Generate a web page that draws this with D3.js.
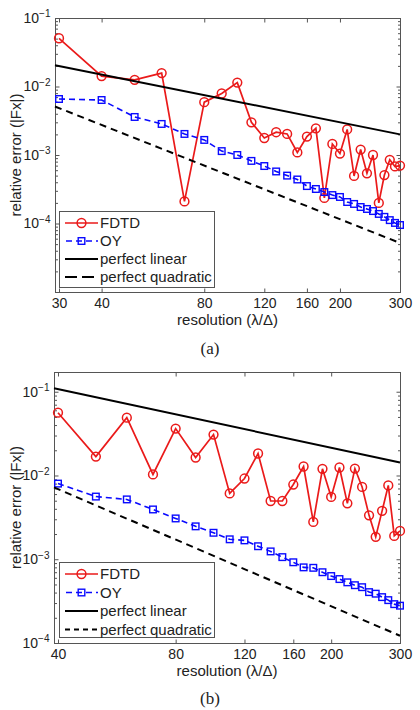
<!DOCTYPE html>
<html>
<head>
<meta charset="utf-8">
<script src="https://cdn.jsdelivr.net/npm/d3@7"></script>
<style>
  body { margin: 0; background: #fff; }
  svg text { font-family: "Liberation Sans", Arial, Helvetica, sans-serif; fill: #222; }
</style>
</head>
<body>
<svg id="chart" width="420" height="710"></svg>
<script>
// ---- panel (a) data ----
var resA = [30,40,50,60,70,80,90,100,110,120,130,140,150,160,170,180,190,200,210,220,230,240,250,260,270,280,290,300];
var fdtdA = [0.0506,0.0142,0.0125,0.0157,2.1e-4,5.9e-3,7.9e-3,0.0114,3.0e-3,1.77e-3,2.15e-3,2.03e-3,1.09e-3,1.86e-3,2.45e-3,2.36e-4,1.45e-3,1.05e-3,2.36e-3,4.95e-4,1.2e-3,5.4e-4,1.0e-3,2.0e-4,5.1e-4,8.5e-4,6.8e-4,7.0e-4];
var oyA = [6.57e-3,6.35e-3,3.59e-3,2.84e-3,2.03e-3,1.66e-3,1.14e-3,1.0e-3,8.2e-4,6.9e-4,5.75e-4,5.0e-4,4.39e-4,3.52e-4,3.19e-4,2.88e-4,2.6e-4,2.44e-4,2.06e-4,1.93e-4,1.74e-4,1.63e-4,1.52e-4,1.38e-4,1.25e-4,1.12e-4,1.02e-4,9.5e-5];
var linearA = [[29.2, 0.0205], [300, 0.0020]];
var quadA = [[29.2, 5.1e-3], [300, 5.2e-5]];
var xTicksA = [30,40,80,120,160,200,300];
var yTicksA = [1e-4,1e-3,1e-2,1e-1];

// ---- panel (b) data ----
var resB = [40,50,60,70,80,90,100,110,120,130,140,150,160,170,180,190,200,210,220,230,240,250,260,270,280,290,300];
var fdtdB = [0.0562,0.0168,0.049,0.0103,0.0363,0.0164,0.0308,6.1e-3,9.2e-3,0.0183,4.96e-3,4.96e-3,7.8e-3,0.0128,2.79e-3,0.012,5.55e-3,0.01245,4.65e-3,0.0121,7.3e-3,3.34e-3,1.85e-3,3.78e-3,7.6e-3,1.9e-3,2.18e-3];
var oyB = [8.0e-3,5.6e-3,5.18e-3,3.93e-3,3.07e-3,2.47e-3,2.07e-3,1.73e-3,1.68e-3,1.43e-3,1.24e-3,1.06e-3,9.2e-4,8.0e-4,7.9e-4,7.0e-4,6.3e-4,5.8e-4,5.3e-4,4.9e-4,4.64e-4,4.05e-4,3.88e-4,3.53e-4,3.25e-4,2.91e-4,2.79e-4];
var linearB = [[39.07, 0.11], [300, 0.0143]];
var quadB = [[39.07, 7.2e-3], [300, 1.22e-4]];
var xTicksB = [40,80,120,160,200,300];
var yTicksB = [1e-4,1e-3,1e-2,1e-1];

var legendLabels = ["FDTD", "OY", "perfect linear", "perfect quadratic"];
var red = "#ea1a1a", blue = "#0a0aff";

var svg = d3.select("#chart");

function drawPanel(p) {
  var g = svg.append("g");
  var x = d3.scaleLog().domain(p.xDomain).range([p.left, p.right]);
  var y = d3.scaleLog().domain(p.yDomain).range([p.bottom, p.top]);

  // box
  g.append("rect")
    .attr("x", p.left + 0.5).attr("y", p.top + 0.5)
    .attr("width", p.right - p.left).attr("height", p.bottom - p.top)
    .attr("fill", "none").attr("stroke", "#555").attr("stroke-width", 1);

  // x axes (ticks point inward)
  var xb = g.append("g").attr("transform", "translate(0," + (p.bottom + 0.5) + ")")
    .call(d3.axisBottom(x).tickValues(p.xTicks).tickSize(-4).tickPadding(6).tickFormat(d3.format("d")));
  g.append("g").attr("transform", "translate(0," + (p.top + 0.5) + ")")
    .call(d3.axisTop(x).tickValues(p.xTicks).tickSize(-4).tickFormat(""));

  // y axes, major + minor
  var minor = y.ticks().filter(function(d) {
    return Math.abs(Math.log10(d) - Math.round(Math.log10(d))) > 1e-6;
  });
  var yl = g.append("g").attr("transform", "translate(" + (p.left + 0.5) + ",0)")
    .call(d3.axisLeft(y).tickValues(p.yTicks).tickSize(-4).tickPadding(5));
  g.append("g").attr("transform", "translate(" + (p.left + 0.5) + ",0)")
    .call(d3.axisLeft(y).tickValues(minor).tickSize(-2.5).tickFormat(""));
  g.append("g").attr("transform", "translate(" + (p.right + 0.5) + ",0)")
    .call(d3.axisRight(y).tickValues(p.yTicks).tickSize(-4).tickFormat(""));
  g.append("g").attr("transform", "translate(" + (p.right + 0.5) + ",0)")
    .call(d3.axisRight(y).tickValues(minor).tickSize(-2.5).tickFormat(""));

  g.selectAll(".domain").remove();
  g.selectAll(".tick line").attr("stroke", "#555");
  xb.selectAll("text").attr("font-size", 14).attr("fill", "#222");

  yl.selectAll(".tick text").each(function(d) {
    var t = d3.select(this).text(null).attr("font-size", 14).attr("fill", "#222");
    t.append("tspan").text("10");
    t.append("tspan").attr("dy", "-0.55em").attr("font-size", 10)
      .text("\u2212" + Math.round(-Math.log10(d)));
  });

  // series, in legend order
  var line = d3.line().x(function(d) { return x(d[0]); }).y(function(d) { return y(d[1]); });
  var fdtdPts = d3.zip(p.res, p.fdtd);
  var oyPts = d3.zip(p.res, p.oy);

  g.append("path").datum(fdtdPts).attr("d", line)
    .attr("fill", "none").attr("stroke", red).attr("stroke-width", 1.7);
  g.selectAll("circle.fdtd").data(fdtdPts).enter().append("circle")
    .attr("class", "fdtd")
    .attr("cx", function(d) { return x(d[0]); }).attr("cy", function(d) { return y(d[1]); })
    .attr("r", 4.4).attr("fill", "none").attr("stroke", red).attr("stroke-width", 1.5);

  g.append("path").datum(oyPts).attr("d", line)
    .attr("fill", "none").attr("stroke", blue).attr("stroke-width", 1.6).attr("stroke-dasharray", "6,4");
  g.selectAll("rect.oy").data(oyPts).enter().append("rect")
    .attr("class", "oy")
    .attr("x", function(d) { return x(d[0]) - 3.3; }).attr("y", function(d) { return y(d[1]) - 3.3; })
    .attr("width", 6.6).attr("height", 6.6)
    .attr("fill", "none").attr("stroke", blue).attr("stroke-width", 1.4);

  g.append("path").datum(p.linear).attr("d", line)
    .attr("fill", "none").attr("stroke", "#000").attr("stroke-width", 2);
  g.append("path").datum(p.quad).attr("d", line)
    .attr("fill", "none").attr("stroke", "#000").attr("stroke-width", 2).attr("stroke-dasharray", "7,5");

  // legend
  var lg = g.append("g");
  lg.append("rect").attr("x", p.legend[0] + 0.5).attr("y", p.legend[1] + 0.5)
    .attr("width", 155).attr("height", p.legend[2])
    .attr("fill", "#fff").attr("stroke", "#555").attr("stroke-width", 1);
  legendLabels.forEach(function(lab, i) {
    var ly = p.legend[1] + 12 + i * p.legend[3];
    var x0 = p.legend[0] + 6, x1 = p.legend[0] + 39, xm = (x0 + x1) / 2;
    var seg = lg.append("line").attr("x1", x0).attr("x2", x1).attr("y1", ly).attr("y2", ly)
      .attr("stroke-width", i < 2 ? 1.7 : 2);
    if (i === 0) {
      seg.attr("stroke", red);
      lg.append("circle").attr("cx", xm).attr("cy", ly).attr("r", 4.4)
        .attr("fill", "none").attr("stroke", red).attr("stroke-width", 1.5);
    } else if (i === 1) {
      seg.attr("stroke", blue).attr("stroke-dasharray", "6,4").attr("stroke-dashoffset", -1);
      lg.append("rect").attr("x", xm - 3.3).attr("y", ly - 3.3).attr("width", 6.6).attr("height", 6.6)
        .attr("fill", "none").attr("stroke", blue).attr("stroke-width", 1.4);
    } else if (i === 2) {
      seg.attr("stroke", "#000");
    } else {
      seg.attr("stroke", "#000").attr("stroke-dasharray", p.quadDash);
    }
    lg.append("text").attr("x", x1 + 2).attr("y", ly).attr("dy", "0.35em")
      .attr("font-size", 15).text(lab);
  });

  // axis labels and caption
  g.append("text")
    .attr("transform", "translate(16," + ((p.top + p.bottom) / 2) + ") rotate(-90)")
    .attr("text-anchor", "middle").attr("dy", "0.35em").attr("font-size", 15)
    .text("relative error (|Fx|)");
  g.append("text")
    .attr("x", (p.left + p.right) / 2).attr("y", p.bottom + 28)
    .attr("text-anchor", "middle").attr("dy", "0.35em").attr("font-size", 15)
    .text("resolution (\u03bb/\u0394)");
  g.append("text")
    .attr("x", 210).attr("y", p.caption)
    .attr("text-anchor", "middle").attr("dy", "0.35em")
    .attr("font-size", 17).style("font-family", "'Liberation Serif', 'Times New Roman', serif")
    .text(p.label);
}

drawPanel({
  left: 55, right: 400, top: 18, bottom: 292,
  xDomain: [29.2, 300], yDomain: [1e-5, 1e-1],
  res: resA, fdtd: fdtdA, oy: oyA, linear: linearA, quad: quadA,
  xTicks: xTicksA, yTicks: yTicksA,
  legend: [59, 211, 76, 18], quadDash: "12,5",
  caption: 348, label: "(a)"
});

drawPanel({
  left: 54, right: 400, top: 372, bottom: 643,
  xDomain: [39.07, 300], yDomain: [1e-4, 0.172],
  res: resB, fdtd: fdtdB, oy: oyB, linear: linearB, quad: quadB,
  xTicks: xTicksB, yTicks: yTicksB,
  legend: [59, 562, 75, 18.5], quadDash: "5,4",
  caption: 698, label: "(b)"
});
</script>
</body>
</html>
